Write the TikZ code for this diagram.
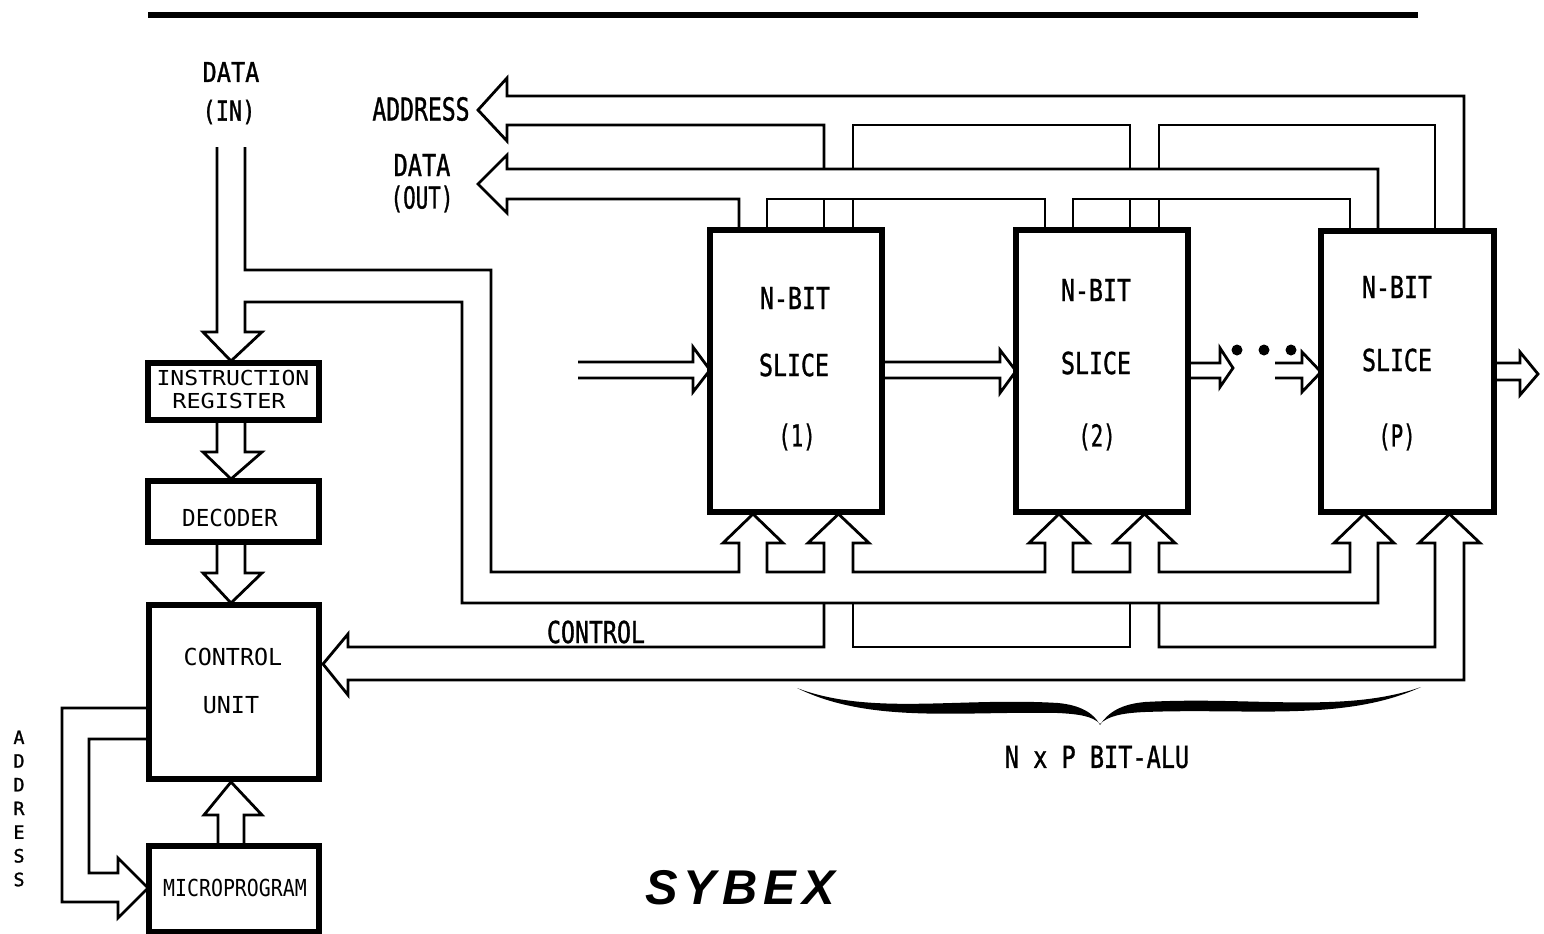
\documentclass[tikz,border=0pt]{standalone}
\usepackage{fontspec}
\newfontfamily\mono{DejaVu Sans Mono}
\newfontfamily\monomed[FakeBold=1.3]{DejaVu Sans Mono}
\newfontfamily\sybexf{Liberation Sans}
\newcommand\tx[3]{\fontsize{#1}{#1}\selectfont\scalebox{#2}[1]{#3}}
\begin{document}
\begin{tikzpicture}[x=0.5pt,y=-0.5pt,
  bus/.style={line width=1.4pt},
  box/.style={draw,line width=3pt,inner sep=0,outer sep=0},
  lbl/.style={inner sep=0,font=\mono},
  blbl/.style={inner sep=0,font=\monomed}]
\useasboundingbox (0,0) rectangle (1544,933);

% top rule
\draw[line width=2.6pt] (148,15) -- (1418,15);

% ---------- boxes ----------
\node[box,minimum width=85.5pt,minimum height=28.5pt] (ir) at (233.5,391.5) {};
\node[box,minimum width=85.5pt,minimum height=30.5pt] (dec) at (233.5,511.5) {};
\node[box,minimum width=85pt,minimum height=87pt] (cu) at (234,692) {};
\node[box,minimum width=85pt,minimum height=43pt] (mp) at (234,889) {};
\node[box,minimum width=86pt,minimum height=141pt] (s1) at (796,371) {};
\node[box,minimum width=86pt,minimum height=141pt] (s2) at (1102,371) {};
\node[box,minimum width=86.5pt,minimum height=140.5pt] (s3) at (1407.5,371.5) {};

% ---------- DATA IN bus, feeding IR and slices ----------
\draw[bus] (245,147) -- (245,270) -- (491,270) -- (491,572) -- (739,572)
  -- (739,543) -- (723,543) -- (753,514) -- (783,543) -- (767,543) -- (767,572)
  -- (824,572) -- (824,543) -- (808,543) -- (838.5,514) -- (869,543) -- (853,543) -- (853,572)
  -- (1045,572) -- (1045,543) -- (1029,543) -- (1059,514) -- (1089,543) -- (1073,543) -- (1073,572)
  -- (1130,572) -- (1130,543) -- (1114,543) -- (1144.5,514) -- (1175,543) -- (1159,543) -- (1159,572)
  -- (1350,572) -- (1350,543) -- (1334,543) -- (1364,514) -- (1394,543) -- (1378,543)
  -- (1378,603) -- (462,603) -- (462,302) -- (245,302) -- (245,332) -- (262,332)
  -- (231,361) -- (203,332) -- (217,332) -- (217,147);

% ---------- CONTROL bus ----------
\draw[bus] (853,603) -- (853,647) -- (1130,647) -- (1130,603);
\draw[bus] (1159,603) -- (1159,647) -- (1435,647) -- (1435,543) -- (1419,543)
  -- (1449.5,514) -- (1480,543) -- (1464,543) -- (1464,680) -- (348,680)
  -- (348,695) -- (323,664) -- (348,634) -- (348,647) -- (824,647) -- (824,603);

% ---------- ADDRESS bus ----------
\draw[bus] (824,169) -- (824,125) -- (507,125) -- (507,141) -- (478,110)
  -- (507,78) -- (507,96) -- (1464,96) -- (1464,231);
\draw[bus] (853,169) -- (853,125) -- (1130,125) -- (1130,169);
\draw[bus] (1159,169) -- (1159,125) -- (1435,125) -- (1435,231);
\draw[bus] (824,199) -- (824,230) (853,199) -- (853,230)
  (1130,199) -- (1130,230) (1159,199) -- (1159,230);

% ---------- DATA OUT bus ----------
\draw[bus] (739,230) -- (739,199) -- (507,199) -- (507,213) -- (478,184)
  -- (507,155) -- (507,169) -- (1378,169) -- (1378,231);
\draw[bus] (767,230) -- (767,199) -- (1045,199) -- (1045,230);
\draw[bus] (1073,230) -- (1073,199) -- (1350,199) -- (1350,231);

% ---------- left column arrows ----------
\draw[bus] (217,420) -- (217,452) -- (203,452) -- (231,479) -- (262,452) -- (245,452) -- (245,420);
\draw[bus] (217,542) -- (217,573) -- (203,573) -- (231,603) -- (262,573) -- (245,573) -- (245,542);
\draw[bus] (218,846) -- (218,815) -- (204,815) -- (231,782) -- (262,815) -- (244,815) -- (244,846);
\draw[bus] (149,708) -- (62,708) -- (62,902) -- (118,902) -- (118,918) -- (148,888)
  -- (118,858) -- (118,873) -- (89,873) -- (89,739) -- (149,739);

% ---------- horizontal carry arrows ----------
\draw[bus] (578,362) -- (693,362) -- (693,347) -- (710,370) -- (693,392) -- (693,378) -- (578,378);
\draw[bus] (882,362) -- (1000,362) -- (1000,350) -- (1016,371) -- (1000,393) -- (1000,378) -- (882,378);
\draw[bus] (1188,363) -- (1220,363) -- (1220,348) -- (1233,368) -- (1220,387) -- (1220,378) -- (1188,378);
\draw[bus] (1275,363) -- (1302,363) -- (1302,352) -- (1321,372) -- (1302,392) -- (1302,378) -- (1275,378);
\draw[bus] (1494,363) -- (1520,363) -- (1520,352) -- (1538,374) -- (1520,395) -- (1520,380) -- (1494,380);
\fill (1237,350) circle (5.5) (1264,350) circle (5.5) (1291,350) circle (5.5);

% redraw box borders on top of the bus ends
\foreach \n in {ir,dec,cu,mp,s1,s2,s3} {
  \draw[line width=3pt] (\n.north west) rectangle (\n.south east);
}

% brace
\fill (797,688) .. controls (870,716) and (960,697) .. (1058,703)
  .. controls (1080,705) and (1094,713) .. (1100,725)
  .. controls (1108,712) and (1122,704) .. (1145,702)
  .. controls (1250,696) and (1345,714) .. (1421,687)
  .. controls (1345,722) and (1250,708) .. (1145,712)
  .. controls (1122,713) and (1108,716) .. (1100,724)
  .. controls (1093,716) and (1078,714) .. (1058,713)
  .. controls (960,711) and (870,724) .. (797,688) -- cycle;

% ---------- texts ----------
\node[blbl] (tdata) at (231,72) {\tx{13.7}{0.86}{DATA}};
\node[blbl] (tin) at (229,112) {\tx{13.7}{0.80}{(IN)}};
\node[blbl] (taddr) at (421,109) {\tx{15.8}{0.73}{ADDRESS}};
\node[blbl] (tdout) at (422,165) {\tx{15.1}{0.78}{DATA}};
\node[blbl] (tout) at (422,199) {\tx{15.1}{0.69}{(OUT)}};
\node[lbl] (tir1) at (233,378) {\tx{10.3}{1.12}{INSTRUCTION}};
\node[lbl] (tir2) at (229,401) {\tx{10.3}{1.14}{REGISTER}};
\node[lbl] (tdec) at (230,518) {\tx{11.7}{0.97}{DECODER}};
\node[lbl] (tcu1) at (233,657) {\tx{11.7}{1.0}{CONTROL}};
\node[lbl] (tcu2) at (231,705) {\tx{11.7}{1.0}{UNIT}};
\node[lbl] (tmp) at (235,888) {\tx{11.7}{0.85}{MICROPROGRAM}};
\node[blbl] (ta1) at (795,298) {\tx{15.1}{0.77}{N-BIT}};
\node[blbl] (tb1) at (794,365) {\tx{15.1}{0.77}{SLICE}};
\node[blbl] (tc1) at (797,437) {\tx{15.1}{0.68}{(1)}};
\node[blbl] (ta2) at (1096,290) {\tx{15.1}{0.77}{N-BIT}};
\node[blbl] (tb2) at (1096,363) {\tx{15.1}{0.77}{SLICE}};
\node[blbl] (tc2) at (1097,437) {\tx{15.1}{0.68}{(2)}};
\node[blbl] (ta3) at (1397,287) {\tx{15.1}{0.77}{N-BIT}};
\node[blbl] (tb3) at (1397,360) {\tx{15.1}{0.77}{SLICE}};
\node[blbl] (tc3) at (1397,437) {\tx{15.1}{0.68}{(P)}};
\node[blbl] (tctl) at (596,632) {\tx{15.1}{0.77}{CONTROL}};
\node[blbl] (talu) at (1097,757) {\tx{15.1}{0.78}{N x P BIT-ALU}};
\node[blbl,align=center,font=\monomed\fontsize{9.2}{11.85}\selectfont] (tvaddr) at (19,808.5) {A\\D\\D\\R\\E\\S\\S};
\node[inner sep=0] (tsybex) at (740,888) {\sybexf\bfseries\itshape\fontsize{24.4}{24.4}\selectfont S\hspace{3pt}Y\hspace{3pt}B\hspace{3pt}E\hspace{3pt}X};
\end{tikzpicture}
\end{document}
